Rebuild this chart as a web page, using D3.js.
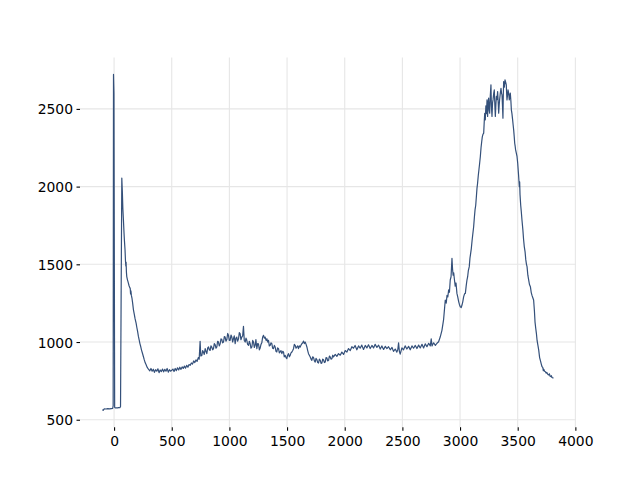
<!DOCTYPE html>
<html><head><meta charset="utf-8">
<script src="https://cdn.jsdelivr.net/npm/d3@7"></script>
<style>html,body{margin:0;padding:0;background:#fff;} svg{display:block;}</style>
</head><body><svg id="chart" width="640" height="480"></svg>
<script>
const wavenumber = [
-100,-95,-85,-70,-55,-40,-25,-12,-8,-5,
-1,5,10,20,30,40,50,56,62,67,
72,76,81,86,90,95,99,102,104,107,
110,116,120,124,130,136,140,143,146,150,
155,161,168,175,182,191,197,204,211,218,
224,231,238,246,254,262,270,278,285,292,
298,310,320,330,340,350,360,370,380,390,
400,410,420,430,440,450,460,470,480,490,
500,510,520,530,540,550,560,570,580,590,
600,610,620,630,640,650,660,670,680,690,
700,710,720,730,738,746,752,761,768,775,
782,790,797,804,812,819,826,833,840,847,
855,862,869,876,884,891,898,905,912,920,
927,934,941,949,956,963,970,978,985,992,
999,1006,1014,1021,1028,1035,1042,1050,1057,1064,
1071,1079,1086,1093,1100,1108,1115,1122,1129,1137,
1144,1151,1158,1166,1173,1180,1187,1195,1202,1209,
1216,1223,1230,1238,1245,1252,1260,1267,1274,1281,
1288,1296,1303,1310,1318,1325,1332,1339,1346,1354,
1361,1368,1375,1382,1390,1397,1404,1411,1418,1426,
1433,1440,1447,1455,1462,1469,1476,1484,1491,1498,
1505,1513,1520,1527,1534,1542,1549,1556,1563,1570,
1578,1585,1592,1599,1606,1614,1621,1628,1636,1643,
1650,1657,1665,1672,1679,1686,1693,1701,1708,1715,
1722,1730,1737,1744,1751,1759,1766,1773,1780,1788,
1795,1802,1809,1816,1824,1831,1838,1845,1852,1860,
1867,1874,1881,1889,1896,1903,1918,1932,1946,1961,
1975,1990,2004,2019,2033,2048,2062,2076,2090,2105,
2120,2134,2148,2163,2178,2192,2206,2221,2236,2250,
2264,2279,2294,2308,2322,2337,2352,2366,2380,2395,
2410,2423,2438,2452,2460,2467,2474,2481,2496,2510,
2524,2539,2554,2568,2583,2597,2612,2626,2641,2655,
2670,2684,2698,2713,2728,2742,2750,2757,2771,2786,
2800,2814,2828,2843,2857,2865,2872,2880,2887,2894,
2901,2908,2915,2922,2926,2930,2935,2940,2945,2950,
2958,2965,2973,2980,2988,2995,3002,3010,3017,3024,
3031,3039,3046,3053,3060,3066,3072,3080,3086,3092,
3098,3104,3110,3118,3124,3130,3136,3142,3147,3152,
3158,3164,3170,3176,3182,3188,3193,3198,3205,3210,
3214,3219,3224,3229,3234,3239,3244,3248,3253,3257,
3262,3268,3272,3277,3282,3286,3292,3297,3302,3306,
3311,3315,3320,3326,3331,3335,3339,3343,3349,3355,
3360,3364,3368,3372,3375,3378,3384,3390,3396,3401,
3404,3407,3412,3416,3422,3427,3431,3436,3441,3445,
3450,3456,3460,3465,3470,3474,3478,3482,3488,3494,
3500,3507,3514,3517,3520,3526,3531,3537,3545,3551,
3557,3564,3570,3576,3581,3588,3595,3602,3610,3617,
3624,3631,3638,3645,3650,3656,3662,3668,3675,3682,
3690,3697,3704,3711,3718,3722,3726,3733,3740,3746,
3752,3758,3764,3769,3775,3781,3787,3792,3797,3810
];
const intensity = [
566,560,570,569,571,570,572,573,590,2722,
2600,580,576,577,576,578,577,585,1400,2055,
1960,1860,1786,1705,1650,1593,1520,1490,1515,1450,
1421,1400,1390,1379,1362,1350,1345,1310,1330,1300,
1283,1250,1207,1180,1150,1122,1095,1068,1036,1012,
990,971,948,928,907,885,866,854,840,832,
826,815,830,812,825,805,822,812,828,803,
820,810,826,808,824,812,830,806,822,812,
818,826,810,830,816,834,820,838,824,840,
830,845,832,850,838,855,850,865,858,878,
868,885,875,900,890,1004,910,914,945,936,
920,957,940,925,962,968,950,946,975,968,
950,957,990,983,960,968,1005,1000,975,989,
1020,1017,995,1000,1035,1032,1005,1017,1055,1043,
1010,1011,1045,1032,1000,1021,1040,989,1025,1032,
1005,1021,1060,1054,1015,1032,1040,1101,1010,1000,
1025,1011,985,979,1005,989,960,968,1010,1000,
965,979,1015,957,990,989,950,962,985,995,
1030,1043,1025,1032,1010,1021,1000,1011,975,979,
995,989,960,957,978,968,940,936,962,957,
930,936,945,925,940,936,905,914,900,893,
915,925,905,914,930,936,945,957,985,979,
960,968,975,957,975,968,980,989,995,1006,
990,1000,985,968,945,925,915,904,890,882,
905,899,878,871,895,886,868,865,890,882,
862,865,890,886,868,871,900,899,878,882,
910,904,890,893,915,904,920,908,925,915,
935,920,945,935,958,945,970,960,978,950,
975,960,980,952,978,962,982,958,978,962,
985,965,980,955,975,952,972,958,970,950,
965,940,955,935,950,995,940,922,962,950,
975,955,972,950,975,960,978,958,980,962,
985,962,988,970,992,975,1020,975,995,978,
992,1002,1032,1075,1142,1210,1270,1250,1300,1290,
1335,1320,1399,1420,1480,1539,1470,1430,1445,1410,
1360,1380,1313,1290,1260,1240,1227,1222,1238,1260,
1290,1310,1313,1360,1399,1420,1460,1485,1540,1570,
1603,1650,1690,1742,1800,1850,1880,1940,1990,2021,
2070,2110,2150,2194,2250,2290,2320,2335,2344,2420,
2472,2430,2520,2470,2558,2451,2540,2569,2490,2472,
2580,2655,2520,2451,2540,2558,2600,2622,2520,2451,
2530,2580,2560,2612,2540,2472,2520,2558,2600,2633,
2600,2590,2520,2440,2580,2676,2640,2687,2670,2655,
2600,2558,2590,2622,2600,2558,2580,2601,2550,2494,
2470,2429,2400,2365,2320,2279,2260,2236,2215,2194,
2150,2080,2000,2030,1950,1880,1840,1785,1720,1660,
1614,1580,1530,1500,1485,1430,1400,1370,1356,1320,
1300,1285,1270,1200,1130,1090,1056,1010,980,949,
900,880,860,841,835,815,825,812,809,800,
805,795,790,788,795,780,778,783,772,768
];
const xTickValues = [0, 500, 1000, 1500, 2000, 2500, 3000, 3500, 4000];
const yTickValues = [500, 1000, 1500, 2000, 2500];

(function () {
const mLeft = 80, mRight = 576, mTop = 57.6, mBottom = 427.2;
const svg = d3.select("#chart");
svg.append("rect").attr("width", 640).attr("height", 480).attr("fill", "#ffffff");

const [xMin, xMax] = d3.extent(wavenumber);
const [yMin, yMax] = d3.extent(intensity);
const xPad = 0.05 * (xMax - xMin), yPad = 0.05 * (yMax - yMin);
const x = d3.scaleLinear().domain([xMin - xPad, xMax + xPad]).range([mLeft, mRight]);
const y = d3.scaleLinear().domain([yMin - yPad, yMax + yPad]).range([mBottom, mTop]);

const font = "DejaVu Sans, sans-serif";

const grid = svg.append("g").attr("stroke", "#e6e6e6").attr("stroke-width", 1.1);
grid.selectAll("line.v").data(xTickValues).join("line").attr("class", "v")
  .attr("x1", d => x(d)).attr("x2", d => x(d)).attr("y1", mTop).attr("y2", mBottom);
grid.selectAll("line.h").data(yTickValues).join("line").attr("class", "h")
  .attr("x1", mLeft).attr("x2", mRight).attr("y1", d => y(d)).attr("y2", d => y(d));

const xAxis = svg.append("g").attr("transform", `translate(0,${mBottom})`)
  .call(d3.axisBottom(x).tickValues(xTickValues).tickSize(3.5).tickPadding(3.5).tickFormat(d3.format("d")));
const yAxis = svg.append("g").attr("transform", `translate(${mLeft},0)`)
  .call(d3.axisLeft(y).tickValues(yTickValues).tickSize(3.5).tickPadding(3.5).tickFormat(d3.format("d")));
[xAxis, yAxis].forEach(g => {
  g.select(".domain").remove();
  g.selectAll(".tick line").attr("stroke", "#000").attr("stroke-width", 1.1);
  g.selectAll(".tick text").attr("fill", "#000").style("font-family", font).style("font-size", "13.9px");
});
xAxis.selectAll(".tick text").attr("y", 18.5).attr("dy", 0);
yAxis.selectAll(".tick text").attr("x", -7).attr("dy", "0.36em");

const pts = wavenumber.map((w, i) => [w, intensity[i]]);
svg.append("path").datum(pts)
  .attr("fill", "none").attr("stroke", "#34507a").attr("stroke-width", 1.2)
  .attr("stroke-linejoin", "round")
  .attr("d", d3.line().x(d => x(d[0])).y(d => y(d[1])));
})();
</script>
</body></html>
